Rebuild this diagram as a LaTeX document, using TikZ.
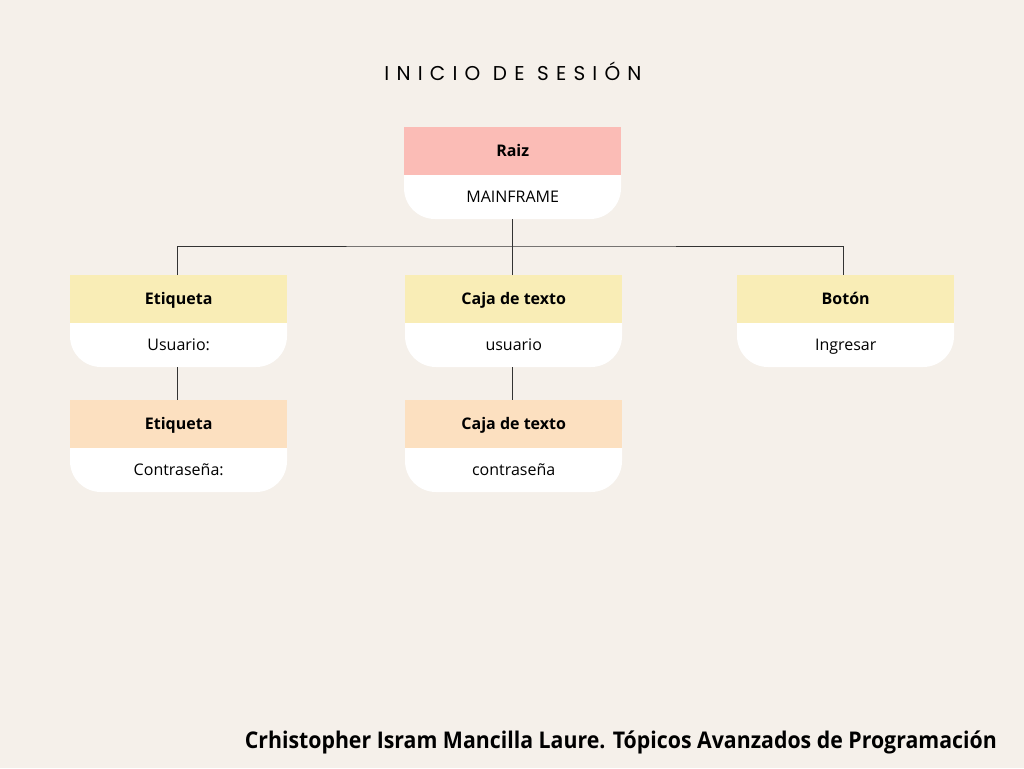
\documentclass[tikz,border=0pt]{standalone}
\usepackage{fontspec}
\usepackage{graphicx}
\setmainfont{Open Sans}
\newfontfamily\titlefont[LetterSpace=36]{Poppins}
\newfontfamily\footfont{Open Sans}
\definecolor{bgc}{HTML}{F5F0EA}
\definecolor{pinkc}{HTML}{FBBCB6}
\definecolor{yelc}{HTML}{F9EDB6}
\definecolor{peachc}{HTML}{FCE0C0}
\definecolor{linec}{HTML}{333333}
\tikzset{
  hdr/.style={rectangle, minimum width=217pt, minimum height=48pt, inner sep=0pt, text height=1.05em, text depth=0.05em, font=\fontsize{16}{19}\selectfont\bfseries, text=black},
  bodytxt/.style={rectangle, minimum width=217pt, minimum height=44pt, inner sep=0pt, text height=1.05em, text depth=0.05em, font=\fontsize{16}{19}\selectfont, text=black},
  conn/.style={draw=linec, line width=1pt},
}
\newcommand\card[6]{%
  \fill[white, rounded corners=31pt] (#2,#3) rectangle ++(217,92);
  \node[hdr, fill=#4, anchor=north west] (#1) at (#2,#3) {#5};
  \node[bodytxt, anchor=north west] (#1b) at (#2,#3+48) {#6};
}
\begin{document}
\begin{tikzpicture}[x=1pt,y=-1pt]
\fill[bgc] (0,0) rectangle (1024,768);
\useasboundingbox (0,0) rectangle (1024,768);
\node[font=\titlefont\fontsize{20}{23}\selectfont, text=black] (title) at (513,71) {INICIO DE SESIÓN};
\card{raiz}{404}{127}{pinkc}{Raiz}{MAINFRAME}
\card{et1}{70}{275}{yelc}{Etiqueta}{Usuario:}
\card{caja1}{405}{275}{yelc}{Caja de texto}{usuario}
\card{bot}{737}{275}{yelc}{Botón}{Ingresar}
\card{et2}{70}{400}{peachc}{Etiqueta}{Contraseña:}
\card{caja2}{405}{400}{peachc}{Caja de texto}{contraseña}
\coordinate (j) at (512,246);
\draw[conn] (raizb.south -| j) -- (j);
\draw[conn] ([xshift=-1.5pt]et1.north) |- (j) -| ([xshift=-2pt]bot.north);
\draw[conn] (caja1.north -| j) -- (j);
\draw[conn] ([xshift=-1.5pt]et1b.south) -- ([xshift=-1.5pt]et2.north);
\draw[conn] (caja1b.south -| j) -- (caja2.north -| j);
\node[anchor=base east, inner sep=0pt, font=\footfont\fontsize{23}{26}\selectfont\bfseries, text=black] (foot) at (997,748) {\resizebox{752pt}{\height}{Crhistopher Isram Mancilla Laure. Tópicos Avanzados de Programación}};
\end{tikzpicture}
\end{document}
